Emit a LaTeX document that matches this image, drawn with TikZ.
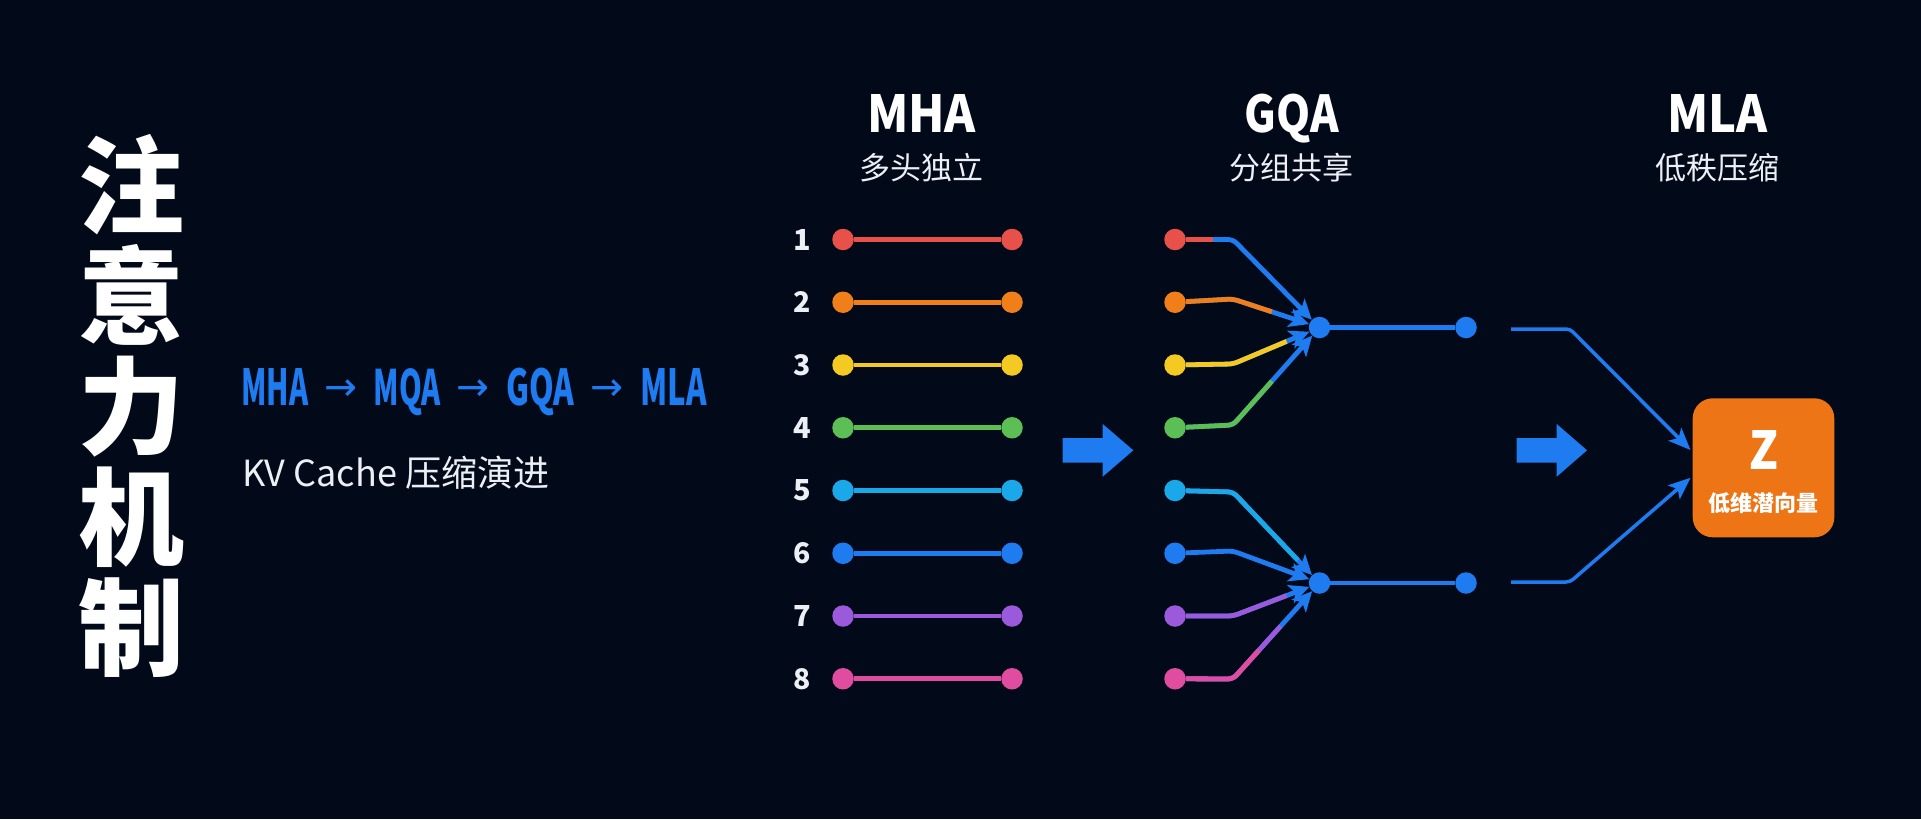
\documentclass[tikz,border=0pt]{standalone}
\usepackage{fontspec}
\setmainfont{Noto Sans}
\newfontfamily\cjk{Noto Sans CJK SC}
\newfontfamily\djv{DejaVu Sans}
\usetikzlibrary{arrows.meta,calc}
\definecolor{bg}{RGB}{2,10,26}
\definecolor{cblue}{RGB}{30,123,240}
\definecolor{cred}{RGB}{232,80,74}
\definecolor{corange}{RGB}{240,127,26}
\definecolor{cyellow}{RGB}{244,201,34}
\definecolor{cgreen}{RGB}{92,191,85}
\definecolor{ccyan}{RGB}{26,168,232}
\definecolor{cpurple}{RGB}{155,89,219}
\definecolor{cpink}{RGB}{224,76,160}
\definecolor{zorange}{RGB}{238,117,22}
\definecolor{txtw}{RGB}{236,239,244}
\tikzset{
  dot/.style={circle, fill=#1, minimum size=21.5pt, inner sep=0pt},
  numlab/.style={text=txtw, inner sep=0pt},
  hline/.style={line width=4.8pt, color=#1},
  gline/.style={line width=4.8pt, color=#1, rounded corners=5pt},
  garrow/.style={line width=4.8pt, color=cblue, rounded corners=5pt, -{Stealth[length=20pt,width=19pt,inset=5pt]}},
  marrow/.style={line width=3.5pt, color=cblue, rounded corners=4pt, -{Stealth[length=22pt,width=18pt,inset=5pt]}},
  head/.style={text=white, inner sep=0pt, anchor=base},
  subhead/.style={text=txtw, inner sep=0pt, anchor=base, font=\cjk\fontsize{31}{31}\selectfont},
  evoword/.style={text=cblue, inner sep=0pt, anchor=base west},
  evoarrow/.style={text=cblue, inner sep=0pt},
  blockarrow/.style={fill=cblue}
}
\newcommand{\bnum}[1]{\resizebox{!}{21pt}{\cjk\bfseries #1}}
\newcommand{\evoarr}{\resizebox{33pt}{!}{\djv →}}
\begin{document}
\begin{tikzpicture}[x=1pt,y=-1pt]
\fill[bg] (0,0) rectangle (1921,819);
\useasboundingbox (0,0) rectangle (1921,819);

% left title
\node[text=white, align=center, inner sep=0pt, font=\cjk\bfseries\fontsize{106}{110.5}\selectfont] (title) at (131,406) {注\\意\\力\\机\\制};

% evolution line
\node[evoword] (e1) at (241,405) {\resizebox{67pt}{37pt}{\cjk\bfseries MHA}};
\node[evoarrow] (e2) at (340.5,390) {\evoarr};
\node[evoword] (e3) at (373.5,405) {\resizebox{67pt}{37pt}{\cjk\bfseries MQA}};
\node[evoarrow] (e4) at (473,390) {\evoarr};
\node[evoword] (e5) at (506,405) {\resizebox{68pt}{37.5pt}{\cjk\bfseries GQA}};
\node[evoarrow] (e6) at (607,390) {\evoarr};
\node[evoword] (e7) at (640.5,405) {\resizebox{66pt}{37pt}{\cjk\bfseries MLA}};
\node[anchor=base west, inner sep=0pt, text=txtw, font=\cjk\fontsize{36}{36}\selectfont] (kv) at (242,486) {KV Cache 压缩演进};

% column headings
\node[head] (tmha) at (921.5,132.5) {\resizebox{109pt}{38pt}{\cjk\bfseries MHA}};
\node[subhead] (smha) at (921.5,179) {多头独立};
\node[head] (tgqa) at (1291.7,132.5) {\resizebox{94pt}{38.5pt}{\cjk\bfseries GQA}};
\node[subhead] (sgqa) at (1291.7,179) {分组共享};
\node[head] (tmla) at (1717,132.5) {\resizebox{100pt}{38pt}{\cjk\bfseries MLA}};
\node[subhead] (smla) at (1717,179) {低秩压缩};

% MHA rows
\foreach \i/\c in {1/cred,2/corange,3/cyellow,4/cgreen,5/ccyan,6/cblue,7/cpurple,8/cpink}{
  \pgfmathsetmacro{\yy}{239.5+(\i-1)*62.75}
  \node[numlab] (n\i) at (802,\yy) {\bnum{\i}};
  \node[dot=\c] (a\i) at (843,\yy) {};
  \node[dot=\c] (b\i) at (1012,\yy) {};
  \draw[hline=\c] (a\i) -- (b\i);
  \node[dot=\c] (g\i) at (1175,\yy) {};
}

% block arrows
\fill[blockarrow] (1062.7,438) -- (1102.7,438) -- (1102.7,424) -- (1133.3,450.3) -- (1102.7,476.7) -- (1102.7,462.7) -- (1062.7,462.7) -- cycle;
\fill[blockarrow] (1516.7,438) -- (1556.7,438) -- (1556.7,424) -- (1587,450.3) -- (1556.7,476.7) -- (1556.7,462.7) -- (1516.7,462.7) -- cycle;

% GQA merge nodes
\node[dot=cblue] (m1) at (1319.5,327.5) {};
\node[dot=cblue] (m2) at (1319.5,583) {};
\node[dot=cblue] (r1) at (1466,327.5) {};
\node[dot=cblue] (r2) at (1466,583) {};
\draw[hline=cblue] (m1) -- (r1);
\draw[hline=cblue] (m2) -- (r2);

% group 1
\draw[garrow] (g1) -- (1233,239.5) -- (m1);
\draw[gline=cred] (g1) -- (1213,239.5);
\draw[garrow] (g2) -- (1233,299) -- (m1);
\draw[gline=corange] (g2) -- (1233,299) -- ($(1233,299)!0.45!(m1)$);
\draw[garrow] (g3) -- (1233,364) -- (m1);
\draw[gline=cyellow] (g3) -- (1233,364) -- ($(1233,364)!0.62!(m1)$);
\draw[garrow] (g4) -- (1233,425) -- (m1);
\draw[gline=cgreen] (g4) -- (1233,425) -- ($(1233,425)!0.45!(m1)$);
% group 2
\draw[garrow] (g5) -- (1233,492) -- (m2);
\draw[gline=ccyan] (g5) -- (1233,492) -- ($(1233,492)!0.75!(m2)$);
\draw[garrow] (g6) -- (1233,551) -- (m2);
\draw[garrow] (g7) -- (1233,616) -- (m2);
\draw[gline=cpurple] (g7) -- (1233,616) -- ($(1233,616)!0.62!(m2)$);
\draw[garrow] (g8) -- (1233,679) -- (m2);
\draw[gline=cpurple] (g8) -- (1233,679) -- ($(1233,679)!0.55!(m2)$);
\draw[gline=cpink] (g8) -- (1233,679) -- ($(1233,679)!0.3!(m2)$);

% MLA
\node[fill=zorange, rounded corners=20pt, minimum width=141.6pt, minimum height=139pt, inner sep=0pt] (z) at (1763.5,467.8) {};
\node[text=white, inner sep=0pt] (zt) at (1763.5,450) {\resizebox{29pt}{39pt}{\cjk\bfseries Z}};
\node[text=white, inner sep=0pt, font=\cjk\bfseries\fontsize{22}{22}\selectfont] (zs) at (1763.5,503.5) {低维潜向量};
\coordinate (s1) at (1511,329);
\coordinate (s2) at (1511,582);
\coordinate (zin1) at ($(z.west)+(-2,-17.8)$);
\coordinate (zin2) at ($(z.west)+(-2,10)$);
\draw[marrow] (s1) -- (1570,329) -- (zin1);
\draw[marrow] (s2) -- (1570,582) -- (zin2);
\end{tikzpicture}
\end{document}
